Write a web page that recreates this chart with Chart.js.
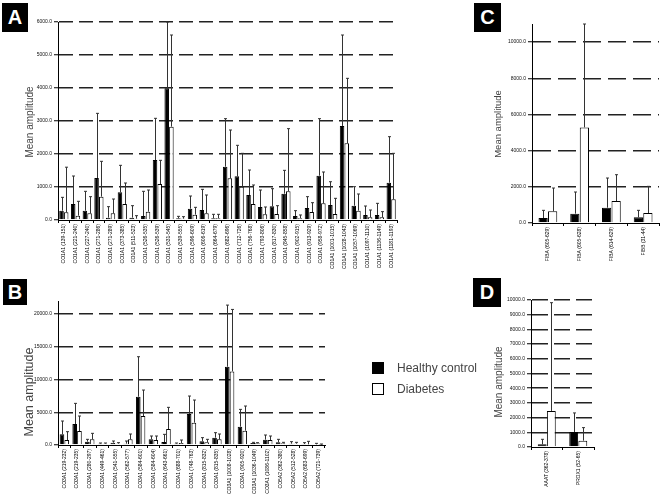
<!DOCTYPE html>
<html>
<head>
    <title>Mean amplitude by peptide</title>
    <script src="https://cdn.jsdelivr.net/npm/chart.js"></script>
    <style>
        body {
            margin: 0;
            background: #fff;
            font-family: 'Liberation Sans', Arial, sans-serif;
        }
        #wrap {
            position: relative;
            width: 661px;
            height: 501px;
            overflow: hidden;
        }
        canvas, .tag, .ytitle, .legend {
            position: absolute;
        }
        .tag {
            background: #000;
            color: #fff;
            font-weight: bold;
            font-size: 20px;
            display: flex;
            align-items: center;
            justify-content: center;
        }
        .ytitle {
            color: #444;
            white-space: nowrap;
            transform: translate(-50%, -50%) rotate(-90deg);
        }
        .legend {
            left: 372px;
            top: 357px;
            font-size: 12px;
            color: #444;
        }
        .legend div {
            display: flex;
            align-items: center;
            height: 21px;
        }
        .swatch {
            width: 10px;
            height: 10px;
            border: 1px solid #000;
            margin-right: 13px;
        }
    </style>
</head>
<body>
<div id="wrap">
    <canvas id="chartA" width="400" height="280" style="left:0;top:0"></canvas>
    <canvas id="chartB" width="330" height="221" style="left:0;top:280px"></canvas>
    <canvas id="chartC" width="191" height="280" style="left:470px;top:0"></canvas>
    <canvas id="chartD" width="191" height="221" style="left:470px;top:280px"></canvas>

    <div class="tag" style="left:2px;top:3px;width:26px;height:29px">A</div>
    <div class="tag" style="left:3px;top:279px;width:24px;height:26px">B</div>
    <div class="tag" style="left:474px;top:3px;width:27px;height:29px">C</div>
    <div class="tag" style="left:473px;top:278px;width:28px;height:29px">D</div>

    <div class="ytitle" style="left:29px;top:122px;font-size:10px">Mean amplitude</div>
    <div class="ytitle" style="left:29px;top:392px;font-size:12.5px">Mean amplitude</div>
    <div class="ytitle" style="left:497px;top:124px;font-size:9.5px">Mean amplitude</div>
    <div class="ytitle" style="left:498px;top:382px;font-size:10px">Mean amplitude</div>

    <div class="legend">
        <div><span class="swatch" style="background:#000"></span>Healthy control</div>
        <div><span class="swatch" style="background:#fff"></span>Diabetes</div>
    </div>
</div>

<script>
    // Panel A
    const labelsA = ['CO1A1 (139-151)', 'CO1A1 (221-240)', 'CO1A1 (227-240)', 'CO1A1 (271-286)', 'CO1A1 (271-289)',
        'CO1A1 (373-385)', 'CO1A1 (511-523)', 'CO1A1 (526-535)', 'CO1A1 (526-539)', 'CO1A1 (531-545)',
        'CO1A1 (539-555)', 'CO1A1 (596-609)', 'CO1A1 (606-619)', 'CO1A1 (664-679)', 'CO1A1 (682-696)',
        'CO1A1 (712-726)', 'CO1A1 (756-768)', 'CO1A1 (793-806)', 'CO1A1 (817-830)', 'CO1A1 (845-858)',
        'CO1A1 (902-915)', 'CO1A1 (913-929)', 'CO1A1 (958-972)', 'CO1A1 (1001-1015)', 'CO1A1 (1028-1043)',
        'CO1A1 (1057-1069)', 'CO1A1 (1097-1110)', 'CO1A1 (1136-1149)', 'CO1A1 (1181-1193)'];
    const healthyA = [283, 485, 283, 1273, 71, 838, 71, 121, 1818, 3990, 50, 343, 303, 50, 1616,
        1323, 758, 394, 414, 798, 121, 364, 1343, 455, 2850, 434, 152, 152, 1131];
    const healthyHighA = [687, 1333, 869, 3232, 404, 1657, 434, 869, 3081, 6010, 111, 727, 929, 172, 3071,
        2263, 1515, 909, 949, 1505, 283, 707, 3071, 1160, 5606, 1010, 424, 505, 2525];
    const diabetesA = [232, 131, 202, 707, 202, 485, 40, 252, 1091, 2828, 40, 162, 202, 50, 1263,
        1010, 485, 172, 182, 869, 50, 242, 505, 182, 2323, 283, 81, 81, 626];
    const diabetesHighA = [1600, 566, 707, 1778, 636, 1121, 131, 909, 1808, 5606, 101, 384, 758, 172, 2727,
        2020, 1061, 394, 434, 2768, 152, 525, 1455, 657, 4293, 788, 303, 253, 2020];
    const ticksA = [0, 1000, 2000, 3000, 4000, 5000, 6000];

    // Panel B
    const labelsB = ['CO3A1 (219-232)', 'CO3A1 (219-235)', 'CO3A1 (280-297)', 'CO3A1 (449-461)', 'CO3A1 (541-555)',
        'CO3A1 (562-577)', 'CO3A1 (584-601)', 'CO3A1 (584-604)', 'CO3A1 (643-661)', 'CO3A1 (688-701)',
        'CO3A1 (748-763)', 'CO3A1 (815-832)', 'CO3A1 (815-835)', 'CO3A1 (1008-1028)', 'CO3A1 (905-920)',
        'CO3A1 (1036-1049)', 'CO3A1 (1086-1102)', 'CO5A2 (362-380)', 'CO5A2 (512-528)', 'CO5A2 (683-699)',
        'CO5A2 (721-739)'];
    const healthyB = [1628, 3206, 509, 204, 356, 204, 7379, 865, 458, 204, 4733, 560, 1120, 11959, 2799,
        305, 814, 407, 204, 153, 102];
    const healthyHighB = [3664, 6361, 865, 305, 611, 611, 13486, 1374, 1628, 305, 7481, 1120, 1883, 21374, 5445,
        407, 1527, 865, 509, 356, 254];
    const diabetesB = [763, 2137, 865, 204, 204, 865, 4427, 763, 2443, 305, 3410, 407, 865, 11247, 2188,
        254, 763, 254, 204, 102, 51];
    const diabetesHighB = [2036, 4427, 1781, 305, 356, 1679, 8397, 1374, 5751, 763, 6870, 865, 1679, 20712, 5954,
        356, 1374, 407, 407, 560, 153];
    const ticksB = [0, 5000, 10000, 15000, 20000];

    // Panel C
    const labelsC = ['FIBA (605-629)', 'FIBA (605-628)', 'FIBA (614-629)', 'FIBB (31-44)'];
    const healthyC = [276, 516, 847, 313];
    const healthyHighC = [700, 1713, 2486, 700];
    const diabetesC = [645, 5285, 1215, 552];
    const diabetesHighC = [1934, 11142, 2670, 2026];
    const ticksC = [0, 2000, 4000, 6000, 8000, 10000];

    // Panel D
    const labelsD = ['AAAT (362-378)', 'PRDX1 (52-65)'];
    const healthyD = [182, 1023];
    const healthyHighD = [523, 2318];
    const diabetesD = [2455, 432];
    const diabetesHighD = [9818, 1318];
    const ticksD = [0, 1000, 2000, 3000, 4000, 5000, 6000, 7000, 8000, 9000, 10000];

    // draws the upper error whisker of each bar
    const errorBars = {
        id: 'errorBars',
        afterDatasetsDraw(chart) {
            const y = chart.scales.y;
            const ctx = chart.ctx;
            ctx.save();
            ctx.strokeStyle = '#333';
            ctx.lineWidth = 1;
            chart.data.datasets.forEach((ds, di) => {
                chart.getDatasetMeta(di).data.forEach((bar, i) => {
                    const top = y.getPixelForValue(Math.min(ds.high[i], y.max));
                    const x = Math.round(bar.x) + 0.5;
                    ctx.beginPath();
                    ctx.moveTo(x, bar.y);
                    ctx.lineTo(x, top);
                    ctx.moveTo(x - 1.5, top);
                    ctx.lineTo(x + 1.5, top);
                    ctx.stroke();
                });
            });
            ctx.restore();
        }
    };

    function makePanel(id, p) {
        return new Chart(document.getElementById(id), {
            type: 'bar',
            data: {
                labels: p.labels,
                datasets: [{
                    label: 'Healthy control',
                    data: p.healthy,
                    high: p.healthyHigh,
                    backgroundColor: '#000',
                    borderColor: '#000',
                    borderWidth: 1
                }, {
                    label: 'Diabetes',
                    data: p.diabetes,
                    high: p.diabetesHigh,
                    backgroundColor: '#fff',
                    borderColor: '#000',
                    borderWidth: 1
                }]
            },
            options: {
                responsive: false,
                animation: false,
                layout: { padding: p.pad },
                datasets: { bar: { categoryPercentage: p.cat, barPercentage: 0.97 } },
                plugins: { legend: { display: false }, tooltip: { enabled: false } },
                scales: {
                    x: {
                        grid: { display: true, drawOnChartArea: false, offset: true, tickLength: 3, color: '#000' },
                        border: { color: '#000', width: 1 },
                        ticks: { autoSkip: false, minRotation: 90, maxRotation: 90, font: { size: 5 }, color: '#000', padding: 1 },
                        afterFit: s => { s.height = p.xh; }
                    },
                    y: {
                        min: 0,
                        max: p.max,
                        ticks: { callback: v => v.toFixed(1), font: { size: 5 }, color: '#111', padding: 2 },
                        afterBuildTicks: s => { s.ticks = p.ticks.map(v => ({ value: v })); },
                        grid: {
                            color: c => (c.tick && c.tick.value === 0) ? 'rgba(0,0,0,0)' : '#222',
                            lineWidth: 1.5,
                            tickLength: 4,
                            tickColor: '#000',
                            tickWidth: 1,
                            tickBorderDash: []
                        },
                        border: { color: '#000', width: 1, dash: p.dash },
                        afterFit: s => { s.width = p.yw; }
                    }
                }
            },
            plugins: [errorBars]
        });
    }

    makePanel('chartA', {
        labels: labelsA, healthy: healthyA, healthyHigh: healthyHighA, diabetes: diabetesA, diabetesHigh: diabetesHighA,
        ticks: ticksA, pad: { top: 22, right: 3, left: 0, bottom: 0 }, yw: 58, xh: 60, max: 6000, cat: 0.8, dash: [14, 6]
    });
    makePanel('chartB', {
        labels: labelsB, healthy: healthyB, healthyHigh: healthyHighB, diabetes: diabetesB, diabetesHigh: diabetesHighB,
        ticks: ticksB, pad: { top: 21, right: 5, left: 0, bottom: 0 }, yw: 58, xh: 56, max: 22000, cat: 0.75, dash: [14, 6]
    });
    makePanel('chartC', {
        labels: labelsC, healthy: healthyC, healthyHigh: healthyHighC, diabetes: diabetesC, diabetesHigh: diabetesHighC,
        ticks: ticksC, pad: { top: 24, right: 2, left: 0, bottom: 0 }, yw: 62, xh: 57, max: 11000, cat: 0.6, dash: [18, 7]
    });
    makePanel('chartD', {
        labels: labelsD, healthy: healthyD, healthyHigh: healthyHighD, diabetes: diabetesD, diabetesHigh: diabetesHighD,
        ticks: ticksD, pad: { top: 20, right: 67, left: 0, bottom: 0 }, yw: 61, xh: 54, max: 10000, cat: 0.58, dash: [16, 6]
    });
</script>
</body>
</html>
